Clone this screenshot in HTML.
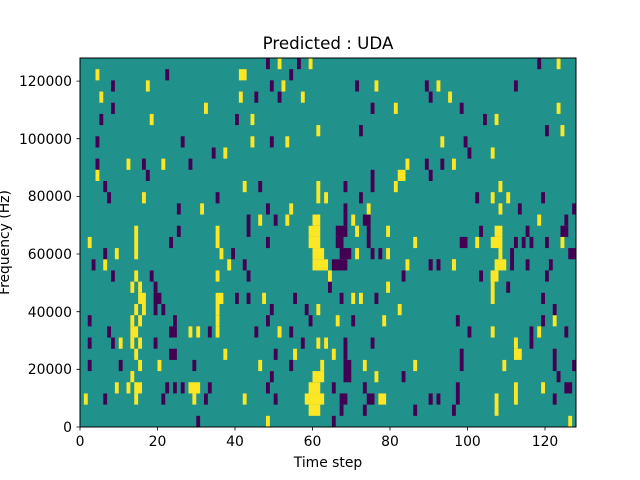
<!DOCTYPE html>
<html><head><meta charset="utf-8"><style>
body{margin:0;background:#fff;}
svg{display:block;font-family:"DejaVu Sans","Liberation Sans",sans-serif;}
</style></head><body>
<svg width="640" height="480" xmlns="http://www.w3.org/2000/svg">
<rect x="0" y="0" width="640" height="480" fill="#fff"/>
<rect x="80" y="58" width="496" height="369" fill="#21918c"/>
<g id="cells"></g>
<rect x="80" y="58" width="496" height="369" fill="none" stroke="#000" stroke-width="1"/>
<g font-size="13.9" fill="#000">
<g text-anchor="middle">
<text x="80" y="446">0</text><text x="157.5" y="446">20</text><text x="235" y="446">40</text><text x="312.5" y="446">60</text><text x="390" y="446">80</text><text x="467.5" y="446">100</text><text x="545" y="446">120</text>
</g>
<g text-anchor="end">
<text x="72" y="432">0</text><text x="72" y="374">20000</text><text x="72" y="317">40000</text><text x="72" y="259">60000</text><text x="72" y="201">80000</text><text x="72" y="144">100000</text><text x="72" y="86">120000</text>
</g>
<path d="M80 427v3.5M157.5 427v3.5M235 427v3.5M312.5 427v3.5M390 427v3.5M467.5 427v3.5M545 427v3.5M80 427h-3.5M80 369.3h-3.5M80 311.7h-3.5M80 254h-3.5M80 196.4h-3.5M80 138.7h-3.5M80 81.1h-3.5" stroke="#000" stroke-width="0.8"/>
</g>
<text x="328" y="49" font-size="16.7" text-anchor="middle">Predicted : UDA</text>
<text x="328" y="467" font-size="13.9" text-anchor="middle">Time step</text>
<text transform="translate(9,242.5) rotate(-90)" font-size="13.9" text-anchor="middle">Frequency (Hz)</text>
</svg>
<script>
var Y="#fde725",P="#440154";
// [col, rowFromBottom, nrows, ncols, color]
var d=[
// left-bottom
[30,0,1,1,P],[48,0,1,1,Y],
[1,2,1,1,Y],[6,2,1,1,P],[14,2,1,1,Y],[21,2,1,1,P],[29,2,1,1,Y],[32,2,1,1,P],[42,2,1,1,Y],
[9,3,1,1,Y],[12,3,1,1,Y],[14,3,1,2,Y],[22,3,1,1,P],[24,3,1,1,P],[26,3,1,1,P],[28,3,1,3,Y],[33,3,1,1,P],[48,3,1,1,P],
[13,4,1,1,Y],[49,4,1,1,P],
[2,5,1,1,P],[10,5,1,1,P],[15,5,1,1,Y],[20,5,1,1,Y],[29,5,1,1,P],[46,5,1,1,Y],
[14,6,1,1,Y],[23,6,1,2,P],[37,6,1,1,Y],[50,6,1,1,P],
[2,7,1,1,P],[8,7,1,1,P],[10,7,1,1,Y],[13,7,1,1,Y],[15,7,1,1,Y],[19,7,1,1,P],
[7,8,1,1,P],[13,8,1,2,Y],[23,8,1,2,P],[28,8,1,1,Y],[30,8,1,1,Y],[33,8,1,1,P],[35,8,1,1,Y],[45,8,1,1,P],[51,8,1,1,Y],
[2,9,1,1,P],[13,9,1,1,Y],[15,9,1,1,Y],[24,9,1,1,P],[35,9,1,1,Y],[48,9,1,1,P],
[14,10,1,1,Y],[16,10,1,1,Y],[19,10,1,1,P],[21,10,1,1,P],[35,10,1,1,Y],[49,10,1,1,P],
[15,11,1,2,Y],[19,11,1,2,P],[35,11,1,2,Y],[40,11,1,1,P],[43,11,1,1,P],[47,11,1,1,Y],
[13,12,1,1,Y],[15,12,1,1,Y],[19,12,1,1,P],
[8,13,1,1,P],[14,13,1,1,Y],[18,13,1,1,P],[35,13,1,1,Y],[43,13,1,1,P],
[3,14,1,1,P],[6,14,1,1,Y],[38,14,1,1,Y],[42,14,1,1,P],
[6,15,1,1,P],[9,15,1,1,Y],[14,15,3,1,Y],[36,15,1,1,Y],[39,15,1,1,P],
[2,16,1,1,Y],[23,16,1,1,P],[35,16,2,1,Y],[48,16,1,1,P],
[25,17,1,1,P],[43,17,2,1,P],[46,18,1,1,Y],[50,18,1,1,P],
[25,19,1,1,P],[31,19,1,1,Y],[48,19,1,1,P],
[7,20,1,1,P],[16,20,1,1,Y],[35,20,1,1,P],
// middle-bottom
[65,0,1,1,P],
[59,1,1,3,Y],[67,1,1,1,P],[73,1,1,1,P],[86,1,1,1,P],[96,1,1,1,P],
[50,2,1,1,P],[58,2,1,5,Y],[67,2,1,2,P],[74,2,1,2,P],[77,2,1,2,Y],[90,2,1,1,P],[92,2,1,1,P],[97,2,1,1,P],
[59,3,1,3,Y],[65,3,1,1,P],[73,3,1,1,P],[97,3,1,1,P],
[60,4,1,3,Y],[68,4,2,2,P],[76,4,1,1,Y],[83,4,1,1,P],
[54,5,1,1,P],[62,5,1,1,Y],[73,5,1,1,Y],[86,5,1,1,Y],[98,5,2,1,P],
[55,6,1,1,Y],[65,6,1,1,Y],[68,6,2,1,P],
[57,7,1,1,P],[61,7,1,1,Y],[63,7,1,1,Y],[75,7,1,1,P],
[51,8,1,1,Y],[54,8,1,1,P],[100,8,1,1,P],
[59,9,1,1,P],[66,9,1,1,Y],[70,9,1,1,P],[78,9,1,1,Y],[97,9,1,1,P],
[58,10,1,1,P],[61,10,1,1,Y],[82,10,1,1,Y],
[55,11,1,1,P],[67,11,1,1,P],[70,11,1,1,Y],[72,11,1,1,Y],[76,11,1,1,P],
[64,12,1,1,P],[79,12,1,1,Y],
[64,13,1,1,Y],[83,13,1,1,P],
[60,14,1,4,Y],[65,14,1,4,P],[84,14,1,1,Y],[90,14,1,1,P],[92,14,1,1,P],[96,14,1,1,Y],
[60,15,1,3,Y],[67,15,1,3,P],[71,15,1,1,Y],[75,15,1,1,P],[77,15,1,1,P],[79,15,1,1,Y],
[59,16,1,3,Y],[66,16,1,2,P],[74,16,1,1,P],[86,16,1,1,Y],[98,16,1,2,P],[102,16,1,1,Y],
[59,17,1,3,Y],[66,17,1,3,P],[71,17,1,1,Y],[74,17,1,1,P],[79,17,1,1,Y],
[53,18,1,1,Y],[60,18,1,2,Y],[68,18,2,1,P],[70,18,1,1,Y],[73,18,1,2,P],
[54,19,1,1,Y],[74,19,1,1,Y],
// right-bottom
[126,0,1,1,Y],[107,1,2,1,Y],[112,2,2,1,Y],[122,2,1,1,P],[90,2,1,1,P],
[119,3,1,1,Y],[125,3,1,2,P],[123,4,1,1,P],
[109,5,1,1,Y],[122,5,2,1,P],[127,5,1,1,P],
[112,6,1,2,Y],[112,7,1,1,Y],[116,7,2,1,P],
[106,8,1,1,Y],[118,8,1,1,Y],[125,8,1,1,P],
[119,9,1,1,P],[122,9,1,1,Y],[122,10,1,1,P],[119,11,1,1,P],
[106,11,3,1,Y],[110,12,1,1,P],
[103,13,1,1,P],[106,13,1,2,Y],[120,13,1,1,P],
[90,14,1,1,P],[92,14,1,1,P],[96,14,1,1,Y],[107,14,1,3,Y],[111,14,2,1,P],[115,14,1,1,P],[121,14,1,1,P],
[108,15,1,1,Y],[126,15,1,2,P],
[106,16,1,3,Y],[112,16,1,1,P],[114,16,1,1,P],[116,16,1,1,P],[120,16,1,1,P],[124,16,1,1,Y],
[103,17,1,1,P],[107,17,1,2,Y],[115,17,1,1,P],[124,17,1,2,P],[125,18,1,1,P],[118,18,1,1,Y],
[108,19,1,1,Y],[113,19,1,1,P],[127,19,1,1,P],
[102,20,1,1,P],[106,20,1,1,Y],[110,20,1,1,Y],[119,20,1,1,P],
// top-left
[48,32,1,1,P],[51,32,1,1,Y],
[4,31,1,1,Y],[22,31,1,1,P],[41,31,1,2,Y],
[8,30,1,1,P],[17,30,1,1,Y],[49,30,1,1,P],
[5,29,1,1,Y],[41,29,1,1,Y],[45,29,1,1,P],[51,29,1,1,P],
[8,28,1,1,P],[32,28,1,1,Y],
[5,27,1,1,P],[18,27,1,1,Y],[40,27,1,1,P],[44,27,1,1,Y],
[4,25,1,1,P],[26,25,1,1,P],[44,25,1,1,Y],[49,25,1,1,P],
[34,24,1,1,P],[37,24,1,1,Y],
[4,23,1,1,P],[12,23,1,1,Y],[16,23,1,1,P],[21,23,1,1,Y],[28,23,1,1,P],
[4,22,1,1,Y],[17,22,1,1,P],
[6,21,1,1,P],[42,21,1,1,Y],[46,21,1,1,P],
// top-middle
[56,32,1,1,P],[59,32,1,1,Y],[54,31,1,1,P],
[52,30,1,1,Y],[71,30,1,1,P],[76,30,1,1,Y],[89,30,1,1,P],
[57,29,1,1,Y],[75,28,1,1,P],[81,28,1,1,Y],
[61,26,1,1,Y],[72,26,1,1,P],[53,25,1,1,Y],
[84,23,1,1,Y],[82,22,1,2,Y],[75,21,2,1,P],
[61,20,2,1,Y],[68,21,1,1,P],[81,21,1,1,Y],[63,20,1,1,Y],[72,20,1,1,P],
// top-right
[118,32,1,1,P],[123,32,1,1,Y],
[92,30,1,1,Y],[112,30,1,1,P],
[90,29,1,1,P],[95,29,1,1,Y],
[98,28,1,1,P],[123,28,1,1,Y],
[104,27,1,1,P],[107,27,1,1,Y],
[120,26,1,1,P],[124,26,1,1,Y],
[93,25,1,1,Y],[99,25,1,1,P],
[100,24,1,1,P],[106,24,1,1,Y],
[89,23,1,1,P],[93,23,1,1,P],[96,23,1,1,Y],
[90,22,1,1,P],[108,21,1,1,Y]
];
var cw=496/128,rh=369/33,h="";
d.forEach(function(e){
 var x=80+e[0]*cw, y=427-(e[1]+e[2])*rh, hh=e[2]*rh;
 if(y<58){hh-=58-y;y=58;}
 h+='<rect x="'+x.toFixed(2)+'" y="'+y.toFixed(2)+'" width="'+(e[3]*cw).toFixed(2)+'" height="'+hh.toFixed(2)+'" fill="'+e[4]+'"/>';
});
document.getElementById("cells").innerHTML=h;
</script>
</body></html>
